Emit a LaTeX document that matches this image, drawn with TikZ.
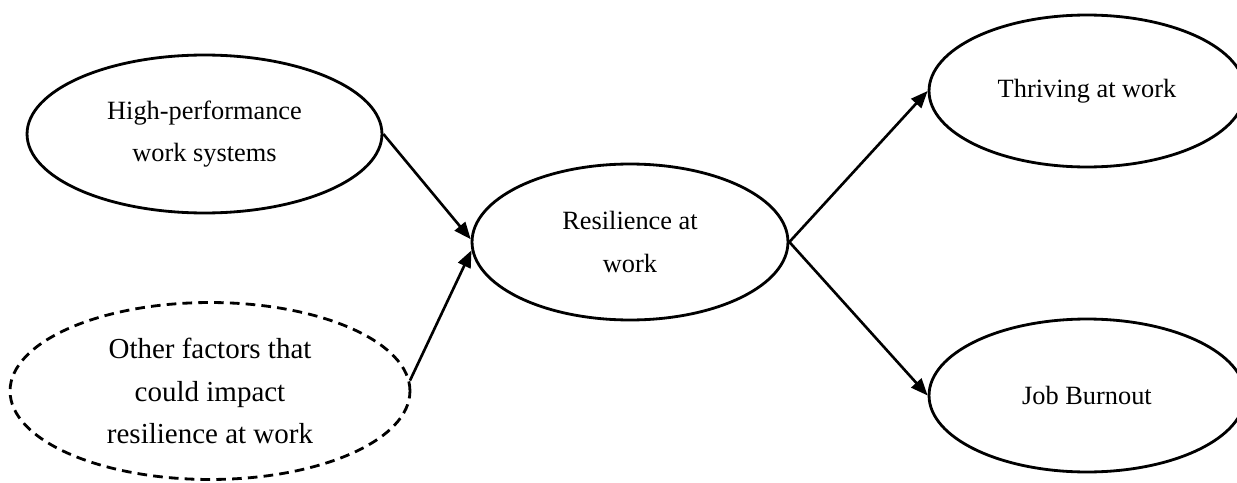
\documentclass[tikz,border=0pt]{standalone}
\usepackage{fontspec}
\setmainfont{Liberation Serif}
\usetikzlibrary{shapes.geometric,arrows.meta}
\tikzstyle{oval} = [ellipse, draw, line width=1.6pt, inner sep=0pt, align=center, font=\fontsize{15}{24.4}\selectfont]
\tikzstyle{arrow} = [line width=1.5pt,-{Triangle[length=0.34cm,width=0.27cm]}]

\begin{document}
\begin{tikzpicture}[x = 0.02cm, y = -0.02cm]

% ----------------------------------------------------

% helper grid (comment out once you're done!)
%\draw[help lines,step=50,gray!20] (0,0) grid (1237,483);
%
% ----------------------------------------------------

  \useasboundingbox (0,0) rectangle (1237,483);

  \node (hpws) [oval, minimum width=7.1cm, minimum height=3.16cm] at (204.5,134) {
    High-performance \\
    work systems
  };
  \node (other) [oval, dash pattern=on 5.5pt off 3.5pt, minimum width=8cm, minimum height=3.54cm,
    font=\fontsize{16.5}{24.4}\selectfont] at (210,391) {
    Other factors that \\
    could impact \\
    resilience at work
  };
  \node (resilience) [oval, minimum width=6.32cm, minimum height=3.12cm] at (630,242) {
    Resilience at \\
    work
  };
  \node (thriving) [oval, minimum width=6.32cm, minimum height=3.04cm] at (1087,91) {Thriving at work};
  \node (burnout) [oval, minimum width=6.32cm, minimum height=3.06cm] at (1087,395.5) {Job Burnout};

  \draw[arrow] (hpws.east) -- (resilience.179);
  \draw[arrow] (other.3) -- (resilience.183);
  \draw[arrow] (resilience.east) -- (thriving.west);
  \draw[arrow] (resilience.east) -- (burnout.west);

\end{tikzpicture}
\end{document}
